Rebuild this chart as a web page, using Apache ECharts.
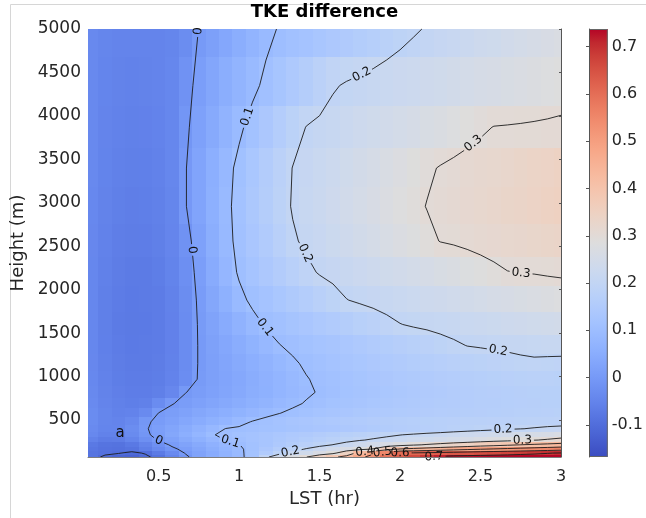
<!DOCTYPE html>
<html>
<head>
<meta charset="utf-8">
<script src="https://cdn.jsdelivr.net/npm/echarts@6/dist/echarts.min.js"></script>
<style>
  html, body { margin: 0; padding: 0; background: #fff; }
  #main { width: 646px; height: 518px; }
</style>
</head>
<body>
<div id="main"></div>
<script>
// Local solar time of each output column (hr)
const lstHours = [0.083, 0.167, 0.25, 0.333, 0.417, 0.5, 0.583, 0.667, 0.75, 0.833, 0.917, 1,
  1.083, 1.167, 1.25, 1.333, 1.417, 1.5, 1.583, 1.667, 1.75, 1.833, 1.917, 2,
  2.083, 2.167, 2.25, 2.333, 2.417, 2.5, 2.583, 2.667, 2.75, 2.833, 2.917, 3];

// Model level heights (m), bottom to top
const heights = [75, 120, 165, 215, 270, 330, 400, 480, 580, 690, 820, 970,
  1150, 1360, 1600, 1880, 2200, 2560, 2960, 3400, 3870, 4350, 5000];

// TKE difference, one row per height level (same order as heights), one value per LST column
const tkeDiff = [
  [-0.085,-0.108,-0.118,-0.122,-0.108,-0.088,-0.05,-0.01,0.025,0.048,0.068,0.088,0.12,0.19,0.235,0.272,0.298,0.345,0.385,0.425,0.48,0.53,0.59,0.625,0.66,0.69,0.715,0.726,0.73,0.733,0.734,0.735,0.736,0.736,0.737,0.737],
  [-0.085,-0.092,-0.098,-0.108,-0.097,-0.07,-0.035,0.003,0.025,0.046,0.068,0.09,0.118,0.152,0.186,0.214,0.238,0.262,0.286,0.346,0.429,0.488,0.551,0.602,0.611,0.619,0.628,0.636,0.645,0.654,0.662,0.671,0.68,0.688,0.697,0.705],
  [-0.08,-0.09,-0.092,-0.085,-0.062,-0.035,-0.01,0.013,0.033,0.053,0.073,0.093,0.114,0.137,0.159,0.182,0.204,0.224,0.243,0.263,0.282,0.306,0.368,0.407,0.422,0.437,0.453,0.468,0.483,0.498,0.509,0.52,0.531,0.541,0.552,0.562],
  [-0.075,-0.085,-0.088,-0.075,-0.05,-0.022,0.007,0.026,0.044,0.063,0.081,0.099,0.114,0.129,0.143,0.158,0.173,0.187,0.201,0.217,0.232,0.246,0.262,0.277,0.292,0.306,0.319,0.333,0.346,0.36,0.373,0.387,0.401,0.412,0.423,0.435],
  [-0.055,-0.068,-0.066,-0.048,-0.022,0.003,0.023,0.042,0.062,0.081,0.101,0.11,0.119,0.129,0.139,0.148,0.158,0.168,0.177,0.187,0.197,0.205,0.213,0.22,0.228,0.236,0.243,0.251,0.258,0.266,0.274,0.281,0.289,0.297,0.307,0.32],
  [-0.04,-0.055,-0.054,-0.034,-0.008,0.013,0.034,0.056,0.077,0.098,0.107,0.114,0.121,0.128,0.135,0.142,0.149,0.156,0.163,0.171,0.178,0.185,0.192,0.199,0.205,0.211,0.216,0.222,0.228,0.233,0.239,0.244,0.25,0.256,0.261,0.267],
  [-0.035,-0.048,-0.048,-0.03,-0.004,0.014,0.031,0.048,0.066,0.083,0.101,0.105,0.109,0.114,0.118,0.123,0.127,0.132,0.136,0.141,0.145,0.15,0.154,0.159,0.163,0.168,0.172,0.177,0.181,0.186,0.19,0.195,0.199,0.203,0.207,0.21],
  [-0.032,-0.045,-0.05,-0.038,-0.006,0.008,0.021,0.035,0.048,0.062,0.075,0.089,0.102,0.112,0.12,0.127,0.133,0.139,0.144,0.149,0.153,0.157,0.161,0.164,0.167,0.17,0.172,0.174,0.176,0.178,0.179,0.18,0.181,0.182,0.184,0.185],
  [-0.032,-0.046,-0.054,-0.052,-0.036,0.001,0.012,0.023,0.034,0.045,0.056,0.067,0.078,0.089,0.099,0.108,0.115,0.122,0.128,0.133,0.138,0.142,0.146,0.15,0.153,0.156,0.159,0.161,0.163,0.165,0.167,0.169,0.171,0.172,0.174,0.175],
  [-0.036,-0.05,-0.058,-0.062,-0.058,-0.032,-0.002,0.01,0.02,0.03,0.041,0.051,0.062,0.072,0.083,0.093,0.103,0.11,0.117,0.123,0.129,0.134,0.139,0.143,0.147,0.151,0.154,0.157,0.16,0.162,0.164,0.166,0.168,0.169,0.17,0.17],
  [-0.038,-0.053,-0.061,-0.065,-0.065,-0.06,-0.042,-0.001,0.01,0.02,0.031,0.041,0.052,0.062,0.073,0.083,0.094,0.103,0.11,0.117,0.123,0.129,0.134,0.139,0.144,0.148,0.152,0.156,0.159,0.162,0.165,0.167,0.169,0.17,0.17,0.17],
  [-0.04,-0.055,-0.064,-0.068,-0.068,-0.064,-0.052,-0.028,0.004,0.016,0.028,0.039,0.051,0.063,0.074,0.086,0.098,0.106,0.113,0.12,0.126,0.132,0.137,0.142,0.147,0.152,0.156,0.16,0.164,0.167,0.17,0.173,0.175,0.176,0.176,0.175],
  [-0.042,-0.057,-0.066,-0.07,-0.07,-0.066,-0.054,-0.032,0.003,0.016,0.029,0.042,0.056,0.069,0.082,0.095,0.105,0.113,0.12,0.127,0.134,0.14,0.146,0.152,0.158,0.163,0.168,0.173,0.177,0.181,0.185,0.188,0.192,0.194,0.192,0.19],
  [-0.043,-0.059,-0.068,-0.072,-0.071,-0.067,-0.056,-0.032,0.003,0.019,0.035,0.051,0.067,0.084,0.099,0.107,0.114,0.122,0.129,0.136,0.143,0.151,0.158,0.165,0.172,0.18,0.187,0.194,0.201,0.203,0.205,0.207,0.209,0.211,0.213,0.215],
  [-0.044,-0.06,-0.069,-0.073,-0.072,-0.068,-0.056,-0.032,0.004,0.024,0.045,0.066,0.087,0.104,0.113,0.123,0.132,0.142,0.152,0.161,0.171,0.18,0.19,0.199,0.204,0.207,0.211,0.215,0.219,0.222,0.226,0.23,0.234,0.237,0.241,0.245],
  [-0.044,-0.06,-0.068,-0.072,-0.071,-0.067,-0.054,-0.03,0.007,0.034,0.062,0.089,0.108,0.121,0.134,0.147,0.16,0.173,0.186,0.199,0.205,0.21,0.215,0.22,0.225,0.23,0.235,0.24,0.245,0.25,0.255,0.26,0.265,0.27,0.275,0.28],
  [-0.044,-0.058,-0.066,-0.07,-0.069,-0.064,-0.051,-0.024,0.013,0.045,0.078,0.105,0.122,0.14,0.157,0.174,0.191,0.203,0.21,0.217,0.224,0.231,0.237,0.244,0.251,0.258,0.265,0.272,0.278,0.285,0.292,0.299,0.301,0.302,0.304,0.305],
  [-0.042,-0.055,-0.063,-0.066,-0.065,-0.06,-0.047,-0.016,0.021,0.053,0.086,0.112,0.132,0.153,0.174,0.195,0.207,0.216,0.226,0.235,0.245,0.254,0.264,0.273,0.282,0.292,0.301,0.304,0.308,0.312,0.316,0.32,0.323,0.327,0.331,0.335],
  [-0.04,-0.053,-0.06,-0.063,-0.062,-0.057,-0.045,-0.002,0.028,0.059,0.089,0.115,0.138,0.161,0.184,0.203,0.213,0.223,0.233,0.243,0.253,0.263,0.273,0.283,0.293,0.301,0.306,0.311,0.316,0.321,0.326,0.331,0.335,0.34,0.345,0.35],
  [-0.038,-0.051,-0.058,-0.06,-0.059,-0.055,-0.043,-0.002,0.027,0.056,0.085,0.111,0.134,0.156,0.179,0.201,0.21,0.22,0.229,0.239,0.248,0.257,0.267,0.276,0.286,0.295,0.302,0.307,0.312,0.317,0.321,0.326,0.331,0.336,0.34,0.345],
  [-0.038,-0.05,-0.055,-0.057,-0.056,-0.052,-0.043,-0.008,0.02,0.044,0.068,0.092,0.115,0.137,0.159,0.181,0.201,0.208,0.215,0.222,0.23,0.237,0.244,0.251,0.258,0.265,0.272,0.28,0.287,0.294,0.301,0.302,0.303,0.304,0.305,0.306],
  [-0.038,-0.048,-0.053,-0.054,-0.053,-0.05,-0.043,-0.016,0.013,0.032,0.052,0.071,0.09,0.109,0.126,0.144,0.161,0.179,0.196,0.204,0.209,0.214,0.219,0.224,0.229,0.234,0.239,0.245,0.25,0.255,0.26,0.265,0.27,0.275,0.28,0.285],
  [-0.038,-0.046,-0.05,-0.05,-0.05,-0.049,-0.046,-0.03,0.001,0.018,0.036,0.053,0.071,0.089,0.103,0.112,0.121,0.131,0.14,0.149,0.158,0.167,0.177,0.186,0.195,0.203,0.21,0.216,0.223,0.23,0.236,0.243,0.25,0.257,0.263,0.27]
];

const contourLevels = [-0.1, 0, 0.1, 0.2, 0.3, 0.4, 0.5, 0.6, 0.7];
// Where each inline contour label sits: [level, LST (hr), height (m)]
const contourLabelHints = [
  [0, 0.745, 4975], [0, 0.702, 2457], [0, 0.498, 251],
  [0.1, 1.049, 3991], [0.1, 1.152, 1556], [0.1, 0.945, 251],
  [0.2, 1.774, 4433], [0.2, 1.391, 2399], [0.2, 2.604, 1229], [0.2, 1.318, 136], [0.2, 2.64, 386],
  [0.3, 2.438, 3723], [0.3, 2.75, 2150], [0.3, 2.76, 271],
  [0.4, 1.78, 155], [0.5, 1.89, 138], [0.6, 2.0, 124], [0.7, 2.21, 98]
];
const lstTicks = [0.5, 1, 1.5, 2, 2.5, 3];
const heightTicks = [500, 1000, 1500, 2000, 2500, 3000, 3500, 4000, 4500, 5000];
const colorbarTicks = [-0.1, 0, 0.1, 0.2, 0.3, 0.4, 0.5, 0.6, 0.7];
const panelTag = ['a', 0.26, 350];

// Axis and colour limits
const X_MIN = 0.061, X_MAX = 3, Y_MIN = 75, Y_MAX = 5000;
const C_MIN = -0.168, C_MAX = 0.7375;

// Diverging blue-grey-red colour map (33 stops)
const coolwarm = [
  [59,76,192],[68,90,204],[77,104,215],[87,117,225],[98,130,234],[108,142,241],[119,154,247],[130,165,251],
  [141,176,254],[152,185,255],[163,194,255],[174,201,253],[184,208,249],[194,213,244],[204,217,238],[213,219,230],
  [221,221,221],[229,216,209],[236,211,197],[241,204,185],[245,196,173],[247,187,160],[247,177,148],[247,166,135],
  [244,154,123],[241,141,111],[236,127,99],[229,112,88],[222,96,77],[213,80,66],[203,62,56],[192,40,47],[180,4,38]
];
function colorFor(v) {
  let t = (v - C_MIN) / (C_MAX - C_MIN);
  t = Math.max(0, Math.min(1, t));
  const p = t * (coolwarm.length - 1);
  const i = Math.min(coolwarm.length - 2, Math.floor(p));
  const f = p - i;
  const a = coolwarm[i], b = coolwarm[i + 1];
  return 'rgb(' + [0, 1, 2].map(k => Math.round(a[k] + (b[k] - a[k]) * f)).join(',') + ')';
}

const FONT = 'DejaVu Sans';

function cellSpan(values, i) {
  const lo = i === 0 ? values[0] - (values[1] - values[0]) / 2 : (values[i - 1] + values[i]) / 2;
  const hi = i === values.length - 1 ? values[i] + (values[i] - values[i - 1]) / 2 : (values[i] + values[i + 1]) / 2;
  return [lo, hi];
}

// Marching squares on the (LST, height) grid; returns polylines in data space
const contourCache = new Map();
function contourLines(level) {
  if (contourCache.has(level)) return contourCache.get(level);
  const nx = lstHours.length, ny = heights.length;
  const z = (i, j) => tkeDiff[j][i];
  const cross = (i0, j0, i1, j1, key) => {
    const v0 = z(i0, j0), v1 = z(i1, j1);
    const t = (level - v0) / (v1 - v0);
    return { key, p: [lstHours[i0] + t * (lstHours[i1] - lstHours[i0]), heights[j0] + t * (heights[j1] - heights[j0])] };
  };
  const segs = [];
  for (let j = 0; j < ny - 1; j++) {
    for (let i = 0; i < nx - 1; i++) {
      const corners = [[i, j], [i + 1, j], [i + 1, j + 1], [i, j + 1]];
      const above = corners.map(c => z(c[0], c[1]) > level);
      const pts = [];
      // bottom, right, top, left edges
      if (above[0] !== above[1]) pts.push(cross(i, j, i + 1, j, 'h' + i + '_' + j));
      if (above[1] !== above[2]) pts.push(cross(i + 1, j, i + 1, j + 1, 'v' + (i + 1) + '_' + j));
      if (above[3] !== above[2]) pts.push(cross(i, j + 1, i + 1, j + 1, 'h' + i + '_' + (j + 1)));
      if (above[0] !== above[3]) pts.push(cross(i, j, i, j + 1, 'v' + i + '_' + j));
      if (pts.length === 2) {
        segs.push([pts[0], pts[1]]);
      } else if (pts.length === 4) {
        const centre = (z(i, j) + z(i + 1, j) + z(i + 1, j + 1) + z(i, j + 1)) / 4;
        if ((centre > level) === above[0]) {
          segs.push([pts[0], pts[1]]); segs.push([pts[2], pts[3]]);
        } else {
          segs.push([pts[3], pts[0]]); segs.push([pts[1], pts[2]]);
        }
      }
    }
  }
  // chain segments that share a grid edge crossing
  const adj = new Map();
  segs.forEach((s, k) => s.forEach(q => {
    if (!adj.has(q.key)) adj.set(q.key, []);
    adj.get(q.key).push(k);
  }));
  const used = new Array(segs.length).fill(false);
  const lines = [];
  for (let k = 0; k < segs.length; k++) {
    if (used[k]) continue;
    used[k] = true;
    const line = [segs[k][0], segs[k][1]];
    for (const forward of [true, false]) {
      for (;;) {
        const end = forward ? line[line.length - 1] : line[0];
        const next = (adj.get(end.key) || []).find(n => !used[n]);
        if (next === undefined) break;
        used[next] = true;
        const s = segs[next];
        const other = s[0].key === end.key ? s[1] : s[0];
        if (forward) line.push(other); else line.unshift(other);
      }
    }
    lines.push(line.map(q => q.p));
  }
  contourCache.set(level, lines);
  return lines;
}

const measureCtx = document.createElement('canvas').getContext('2d');
function textWidth(text, size) {
  measureCtx.font = size + 'px "' + FONT + '"';
  return measureCtx.measureText(text).width;
}

function cutCircle(a, b, t0, t1, c) {
  const dx = b[0] - a[0], dy = b[1] - a[1];
  const fx = a[0] - c.x, fy = a[1] - c.y;
  const A = dx * dx + dy * dy;
  if (A === 0) return [[t0, t1]];
  const B = 2 * (fx * dx + fy * dy);
  const C = fx * fx + fy * fy - c.r * c.r;
  const disc = B * B - 4 * A * C;
  if (disc <= 0) return [[t0, t1]];
  const sq = Math.sqrt(disc);
  const s1 = (-B - sq) / (2 * A), s2 = (-B + sq) / (2 * A);
  const out = [];
  if (s1 > t0) out.push([t0, Math.min(s1, t1)]);
  if (s2 < t1) out.push([Math.max(s2, t0), t1]);
  return out.filter(p => p[1] > p[0]);
}

function clipPolyline(pts, circles) {
  const pieces = [];
  let cur = null;
  for (let k = 0; k < pts.length - 1; k++) {
    const a = pts[k], b = pts[k + 1];
    let parts = [[0, 1]];
    circles.forEach(c => { parts = parts.flatMap(p => cutCircle(a, b, p[0], p[1], c)); });
    if (!parts.length) { cur = null; continue; }
    parts.forEach(p => {
      const p0 = [a[0] + (b[0] - a[0]) * p[0], a[1] + (b[1] - a[1]) * p[0]];
      const p1 = [a[0] + (b[0] - a[0]) * p[1], a[1] + (b[1] - a[1]) * p[1]];
      if (cur && p[0] === 0) cur.push(p1);
      else { cur = [p0, p1]; pieces.push(cur); }
    });
    if (parts[parts.length - 1][1] !== 1) cur = null;
  }
  return pieces;
}

const heatCells = [];
heights.forEach((h, j) => lstHours.forEach((x, i) => heatCells.push([x, h, tkeDiff[j][i], i, j])));

const chart = echarts.init(document.getElementById('main'), null, { renderer: 'canvas' });
const axisText = '#262626';

chart.setOption({
  animation: false,
  backgroundColor: '#fff',
  textStyle: { fontFamily: FONT },
  title: {
    text: 'TKE difference', left: 324.5, top: 3, padding: 0, textAlign: 'center',
    textStyle: { fontFamily: FONT, fontSize: 18, fontWeight: 'bold', color: '#000' }
  },
  grid: [
    { left: 88, top: 29, width: 473, height: 428 },
    { left: 589, top: 29, width: 23, height: 428 }
  ],
  xAxis: [
    {
      type: 'value', gridIndex: 0, min: X_MIN, max: X_MAX, z: 10,
      name: 'LST (hr)', nameLocation: 'middle', nameGap: 29,
      nameTextStyle: { fontFamily: FONT, fontSize: 18, color: axisText },
      axisLine: { show: true, onZero: false, lineStyle: { color: '#7d7d7d', width: 1 } },
      axisTick: { show: false },
      axisLabel: { customValues: lstTicks, fontSize: 16, color: axisText, margin: 12, formatter: v => String(v) },
      splitLine: { show: false }
    },
    { type: 'value', gridIndex: 1, min: 0, max: 1, show: false }
  ],
  yAxis: [
    {
      type: 'value', gridIndex: 0, min: Y_MIN, max: Y_MAX,
      name: 'Height (m)', nameLocation: 'middle', nameGap: 55,
      nameTextStyle: { fontFamily: FONT, fontSize: 18, color: axisText },
      axisLine: { show: false }, axisTick: { show: false },
      axisLabel: { customValues: heightTicks, fontSize: 17, color: axisText, margin: 7, formatter: v => String(v) },
      splitLine: { show: false }
    },
    {
      type: 'value', gridIndex: 0, position: 'right', min: Y_MIN, max: Y_MAX, z: 10,
      axisLine: { show: true, lineStyle: { color: '#555' } },
      axisTick: { show: true, inside: true, length: 2, customValues: heightTicks, lineStyle: { color: '#555' } },
      axisLabel: { show: false }, splitLine: { show: false }
    },
    {
      type: 'value', gridIndex: 1, position: 'right', min: C_MIN, max: C_MAX, z: 10,
      axisLine: { show: true, lineStyle: { color: '#555' } },
      axisTick: { show: true, inside: true, length: 3, customValues: colorbarTicks, lineStyle: { color: '#555' } },
      axisLabel: { customValues: colorbarTicks, fontSize: 16, color: axisText, margin: 4, formatter: v => String(v) },
      splitLine: { show: false }
    }
  ],
  series: [
    {
      // TKE difference field, one flat cell per grid point
      type: 'custom', name: 'tke', xAxisIndex: 0, yAxisIndex: 0, silent: true, z: 1,
      data: heatCells, encode: { x: 0, y: 1 },
      renderItem: (params, api) => {
        const i = api.value(3), j = api.value(4);
        const xs = cellSpan(lstHours, i), ys = cellSpan(heights, j);
        const x0 = Math.max(X_MIN, xs[0]), x1 = Math.min(X_MAX, xs[1]);
        const y0 = Math.max(Y_MIN, ys[0]), y1 = Math.min(Y_MAX, ys[1]);
        const pa = api.coord([x0, y0]), pb = api.coord([x1, y1]);
        const left = Math.round(pa[0]), right = Math.round(pb[0]);
        const top = Math.round(pb[1]), bottom = Math.round(pa[1]);
        return {
          type: 'rect',
          shape: { x: left, y: top, width: right - left, height: bottom - top },
          style: { fill: colorFor(api.value(2)) }
        };
      }
    },
    {
      // contour lines with inline labels
      type: 'custom', name: 'contours', xAxisIndex: 0, yAxisIndex: 0, silent: true, z: 3,
      data: contourLevels.map(l => [X_MIN, Y_MIN, l]), encode: { x: 0, y: 1 },
      renderItem: (params, api) => {
        const level = api.value(2);
        const lines = contourLines(level).map(line => line.map(p => api.coord(p)));
        const children = [];
        const circles = [];
        contourLabelHints.filter(h => h[0] === level).forEach(h => {
          const c = api.coord([h[1], h[2]]);
          let best = null;
          lines.forEach(line => {
            for (let k = 0; k < line.length - 1; k++) {
              const a = line[k], b = line[k + 1];
              const dx = b[0] - a[0], dy = b[1] - a[1];
              const L2 = dx * dx + dy * dy || 1;
              let t = ((c[0] - a[0]) * dx + (c[1] - a[1]) * dy) / L2;
              t = Math.max(0, Math.min(1, t));
              const px = a[0] + t * dx, py = a[1] + t * dy;
              const d = (px - c[0]) ** 2 + (py - c[1]) ** 2;
              if (!best || d < best.d) {
                const pPrev = line[Math.max(0, k - 1)], pNext = line[Math.min(line.length - 1, k + 2)];
                best = { d, x: px, y: py, dx: pNext[0] - pPrev[0], dy: pNext[1] - pPrev[1] };
              }
            }
          });
          if (!best) return;
          let ang = Math.atan2(-best.dy, best.dx);
          if (ang > Math.PI / 2) ang -= Math.PI;
          if (ang <= -Math.PI / 2) ang += Math.PI;
          const text = String(level);
          circles.push({ x: best.x, y: best.y, r: textWidth(text, 12) / 2 + 2 });
          children.push({
            type: 'text', x: best.x, y: best.y, rotation: ang, z2: 2,
            style: { text, fontFamily: FONT, fontSize: 12, fill: '#111', align: 'center', verticalAlign: 'middle' }
          });
        });
        lines.forEach(line => {
          clipPolyline(line, circles).forEach(piece => {
            children.unshift({
              type: 'polyline', shape: { points: piece },
              style: { fill: null, stroke: '#1c1c1c', lineWidth: 0.9 }
            });
          });
        });
        return { type: 'group', children };
      }
    },
    {
      // panel tag
      type: 'custom', name: 'tag', xAxisIndex: 0, yAxisIndex: 0, silent: true, z: 4,
      data: [[panelTag[1], panelTag[2]]], encode: { x: 0, y: 1 },
      renderItem: (params, api) => {
        const p = api.coord([api.value(0), api.value(1)]);
        return {
          type: 'text', x: p[0], y: p[1],
          style: { text: panelTag[0], fontFamily: FONT, fontSize: 15, fill: '#111', align: 'center', verticalAlign: 'middle' }
        };
      }
    },
    {
      // colour bar
      type: 'custom', name: 'colorbar', xAxisIndex: 1, yAxisIndex: 2, silent: true, z: 1,
      data: [[0, C_MIN]], encode: { x: 0, y: 1 },
      renderItem: (params, api) => {
        const lo = api.coord([0, C_MIN]), hi = api.coord([1, C_MAX]);
        return {
          type: 'group',
          children: [
            {
              type: 'rect',
              shape: { x: lo[0], y: hi[1], width: hi[0] - lo[0], height: lo[1] - hi[1] },
              style: {
                fill: new echarts.graphic.LinearGradient(0, 1, 0, 0,
                  coolwarm.map((c, k) => ({ offset: k / (coolwarm.length - 1), color: 'rgb(' + c.join(',') + ')' })))
              }
            },
            {
              type: 'rect',
              shape: { x: lo[0] + 0.5, y: hi[1] + 0.5, width: hi[0] - lo[0] - 1, height: lo[1] - hi[1] - 1 },
              style: { fill: null, stroke: '#666', lineWidth: 1 }
            }
          ]
        };
      }
    }
  ],
  graphic: [
    { type: 'line', shape: { x1: 10.5, y1: 4.5, x2: 646, y2: 4.5 }, style: { stroke: '#d6d6d6', lineWidth: 1 }, silent: true },
    { type: 'line', shape: { x1: 10.5, y1: 4.5, x2: 10.5, y2: 518 }, style: { stroke: '#d6d6d6', lineWidth: 1 }, silent: true }
  ]
});
</script>
</body>
</html>
